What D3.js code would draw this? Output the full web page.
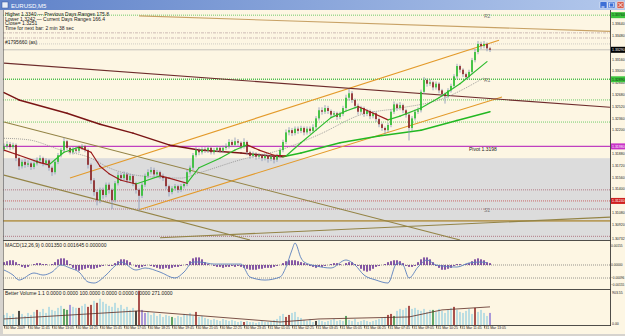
<!DOCTYPE html>
<html lang="en">
<head>
<meta charset="UTF-8">
<title>EURUSD,M5</title>
<script src="https://cdn.jsdelivr.net/npm/d3@7"></script>
<style>
    body{ margin:0; background:#d6d3ce; font-family:"Liberation Sans", Arial, sans-serif; }
    svg{ display:block; }
    .tiny{ font-size:5px; fill:#1a1a1a; }
    .axl{ font-size:3.5px; fill:#1a1a1a; }
    .axm{ font-size:3.2px; fill:#1a1a1a; }
</style>
</head>
<body>
<script>
// step 1 data (EURUSD M5, candle = 10 min)
const openFirst = 1.3194;
const closes = [
 1.3198,1.3201,1.3197,1.3200,1.3182,1.3171,1.3177,1.3173,1.3175,1.3170,
 1.3175,1.3179,1.3182,1.3175,1.3179,1.3169,1.3163,1.3177,1.3186,1.3193,
 1.3205,1.3196,1.3190,1.3194,1.3192,1.3196,1.3198,1.3193,1.3173,1.3152,
 1.3136,1.3125,1.3139,1.3132,1.3146,1.3139,1.3125,1.3148,1.3159,1.3155,
 1.3160,1.3152,1.3158,1.3148,1.3139,1.3131,1.3146,1.3158,1.3163,1.3166,
 1.3160,1.3163,1.3158,1.3155,1.3144,1.3136,1.3141,1.3144,1.3139,1.3144,
 1.3147,1.3163,1.3169,1.3186,1.3193,1.3190,1.3194,1.3192,1.3196,1.3190,
 1.3193,1.3196,1.3192,1.3196,1.3198,1.3204,1.3200,1.3205,1.3203,1.3198,
 1.3204,1.3190,1.3185,1.3188,1.3184,1.3186,1.3182,1.3185,1.3181,1.3184,
 1.3180,1.3185,1.3193,1.3204,1.3217,1.3220,1.3216,1.3222,1.3219,1.3223,
 1.3217,1.3222,1.3219,1.3224,1.3236,1.3247,1.3245,1.3250,1.3246,1.3241,
 1.3243,1.3238,1.3242,1.3250,1.3264,1.3270,1.3261,1.3253,1.3245,1.3250,
 1.3242,1.3246,1.3239,1.3243,1.3235,1.3228,1.3223,1.3220,1.3227,1.3245,
 1.3255,1.3250,1.3254,1.3247,1.3241,1.3223,1.3236,1.3245,1.3247,1.3272,
 1.3288,1.3283,1.3285,1.3278,1.3283,1.3274,1.3269,1.3266,1.3274,1.3280,
 1.3293,1.3307,1.3302,1.3296,1.3292,1.3299,1.3315,1.3326,1.3337,1.3334,
 1.3337,1.3331,1.3329];
const highs = [
 1.3202,1.3205,1.3204,1.3203,1.3202,1.3184,1.3180,1.3181,1.3179,1.3177,
 1.3178,1.3183,1.3186,1.3184,1.3182,1.3181,1.3171,1.3180,1.3189,1.3196,
 1.3210,1.3207,1.3198,1.3197,1.3197,1.3199,1.3201,1.3200,1.3195,1.3175,
 1.3155,1.3139,1.3142,1.3142,1.3149,1.3149,1.3141,1.3151,1.3163,1.3162,
 1.3164,1.3163,1.3161,1.3160,1.3150,1.3141,1.3149,1.3161,1.3167,1.3170,
 1.3169,1.3166,1.3165,1.3161,1.3157,1.3146,1.3144,1.3147,1.3146,1.3147,
 1.3150,1.3166,1.3172,1.3189,1.3197,1.3196,1.3197,1.3197,1.3199,1.3198,
 1.3196,1.3199,1.3198,1.3199,1.3202,1.3208,1.3207,1.3210,1.3208,1.3205,
 1.3209,1.3206,1.3192,1.3191,1.3190,1.3189,1.3188,1.3188,1.3187,1.3187,
 1.3186,1.3188,1.3196,1.3207,1.3221,1.3224,1.3223,1.3225,1.3225,1.3226,
 1.3225,1.3225,1.3225,1.3228,1.3239,1.3251,1.3251,1.3254,1.3253,1.3248,
 1.3246,1.3245,1.3245,1.3253,1.3268,1.3276,1.3273,1.3263,1.3256,1.3253,
 1.3252,1.3249,1.3248,1.3246,1.3245,1.3237,1.3230,1.3225,1.3230,1.3248,
 1.3259,1.3257,1.3258,1.3256,1.3249,1.3243,1.3239,1.3248,1.3251,1.3275,
 1.3292,1.3290,1.3289,1.3287,1.3286,1.3285,1.3276,1.3271,1.3277,1.3283,
 1.3296,1.3310,1.3309,1.3304,1.3298,1.3302,1.3318,1.3330,1.3341,1.3340,
 1.3341,1.3339,1.3333];
const lows = [
 1.3191,1.3195,1.3193,1.3194,1.3178,1.3166,1.3168,1.3169,1.3170,1.3166,
 1.3167,1.3172,1.3176,1.3171,1.3172,1.3165,1.3158,1.3160,1.3174,1.3183,
 1.3190,1.3193,1.3187,1.3187,1.3189,1.3189,1.3193,1.3190,1.3168,1.3147,
 1.3131,1.3118,1.3121,1.3127,1.3129,1.3134,1.3113,1.3122,1.3145,1.3151,
 1.3152,1.3148,1.3149,1.3144,1.3134,1.3110,1.3128,1.3143,1.3155,1.3160,
 1.3156,1.3157,1.3154,1.3151,1.3140,1.3130,1.3133,1.3138,1.3135,1.3136,
 1.3141,1.3144,1.3160,1.3166,1.3183,1.3186,1.3187,1.3189,1.3189,1.3187,
 1.3187,1.3190,1.3189,1.3189,1.3193,1.3195,1.3197,1.3197,1.3199,1.3194,
 1.3195,1.3186,1.3181,1.3182,1.3180,1.3181,1.3178,1.3179,1.3176,1.3178,
 1.3175,1.3177,1.3182,1.3190,1.3201,1.3213,1.3212,1.3213,1.3215,1.3216,
 1.3213,1.3214,1.3215,1.3216,1.3221,1.3233,1.3241,1.3242,1.3242,1.3237,
 1.3238,1.3234,1.3235,1.3239,1.3247,1.3260,1.3257,1.3249,1.3241,1.3242,
 1.3238,1.3239,1.3235,1.3236,1.3231,1.3224,1.3219,1.3214,1.3217,1.3224,
 1.3242,1.3246,1.3247,1.3243,1.3237,1.3206,1.3219,1.3233,1.3242,1.3244,
 1.3269,1.3279,1.3280,1.3274,1.3275,1.3270,1.3265,1.3256,1.3263,1.3271,
 1.3277,1.3290,1.3298,1.3292,1.3288,1.3289,1.3296,1.3312,1.3323,1.3330,
 1.3331,1.3327,1.3326];

// moving averages, [bar, price]
const fastMA = [[0,1.3193],[5,1.3186],[12,1.3176],[15,1.3173],[20,1.3190],[25,1.3197],[29,1.3190],
 [32,1.3171],[35,1.3161],[39,1.3152],[44,1.3147],[47,1.3151],[52,1.3158],[55,1.3155],[61,1.3148],
 [65,1.3169],[72,1.3182],[77,1.3193],[81,1.3200],[85,1.3193],[90,1.3186],[94,1.3185],[99,1.3203],
 [104,1.3220],[109,1.3237],[114,1.3246],[118,1.3252],[122,1.3245],[128,1.3234],[132,1.3239],
 [139,1.3250],[145,1.3264],[152,1.3283],[161,1.3313]];
const slowMA = [[0,1.3271],[5,1.3261],[21,1.3243],[32,1.3228],[43,1.3216],[55,1.3200],[65,1.3193],
 [79,1.3189],[89,1.3185],[93,1.3184],[99,1.3189],[112,1.3203],[125,1.3212],[139,1.3220],
 [151,1.3233],[162,1.3245]];
const dotMA = [[0,1.3209],[8,1.3207],[19,1.3193],[29,1.3182],[35,1.3169],[48,1.3157],[59,1.3155],
 [65,1.3162],[79,1.3180],[92,1.3193],[105,1.3214],[119,1.3241],[132,1.3250],[145,1.3261],[160,1.3291]];

// trend lines, [[bar, price],[bar, price]]
const orangeLines = [[[22,1.3155],[165,1.3342]], [[45,1.3112],[166,1.3265]]];
const oliveLines = [[[0,1.3231],[152,1.3071]], [[0,1.3159],[82,1.3071]], [[52,1.3074],[202,1.3102]]];
const maroonLine = [[0,1.3311],[202,1.3251]];
const tanLine = [[45,1.3375],[202,1.3354]];

// horizontal levels
const greenLevels = [1.3376, 1.3289, 1.3261, 1.3231];
const dashLevels = [1.3352, 1.3345];
const grayLevel = 1.3337;
const bidPrice = 1.3329;
const pivot = 1.3198;
const redDotLevels = [1.3139, 1.3113, 1.3076];
const redLevel = 1.3124;
const tanLevel = 1.3097;
const zoneTop = 1.3182;

const priceTicks = [1.3364,1.3348,1.3316,1.3300,1.3284,1.3268,1.3252,1.3236,1.3220,
 1.3188,1.3172,1.3156,1.3140,1.3108,1.3092,1.30732];
const timeLabels = ["30 Mar 2009","30 Mar 11:45","30 Mar 13:05","30 Mar 14:25","30 Mar 15:45",
 "30 Mar 17:05","30 Mar 18:25","30 Mar 19:45","30 Mar 21:05","30 Mar 22:25","30 Mar 23:45",
 "31 Mar 01:05","31 Mar 02:25","31 Mar 03:45","31 Mar 05:05","31 Mar 06:25","31 Mar 07:45",
 "31 Mar 09:05","31 Mar 10:25","31 Mar 11:45","31 Mar 13:05"];
const infoLines = ["Higher 1.3340 \u2014 Previous Days Ranges 175.8",
 "Lower 1.3242 \u2014 Current Days Ranges 166.4", "Close= 1.3251", "Time for next bar: 2 min 38 sec"];

// MACD histogram per candle, signal line [bar, value]
const macdHist = [
 0.00021,0.00028,0.00035,0.00035,0.00021,0.00007,-0.00014,-0.00021,-0.00014,0,
 0.00007,0.00014,0.00014,0.00007,0.00007,0,0.00007,0.00021,0.00042,0.00049,
 0.00049,0.00035,0.00007,-0.00021,-0.00035,-0.00042,-0.00035,-0.00028,-0.00021,-0.00028,
 -0.00028,-0.00021,-0.00014,-0.00007,0,-0.00007,-0.00007,0.00014,0.00028,0.00042,
 0.00042,0.00035,0.00021,0,-0.00014,-0.00021,-0.00014,-0.00007,0,-0.00007,
 -0.00014,-0.00021,-0.00028,-0.00028,-0.00021,-0.00028,-0.00021,-0.00014,-0.00014,-0.00007,
 0,0.00007,0.00028,0.00049,0.00056,0.00056,0.00042,0.00021,0.00007,0,
 -0.00007,-0.00014,-0.00014,-0.00021,-0.00014,-0.00014,-0.00007,-0.00014,-0.00007,-0.00014,
 -0.00021,-0.00028,-0.00035,-0.00035,-0.00035,-0.00028,-0.00028,-0.00021,-0.00021,-0.00021,
 -0.00014,-0.00007,0,0.00014,0.00028,0.00035,0.00035,0.00035,0.00028,0.00021,
 0.00014,0.00007,-0.00007,-0.00014,-0.00021,-0.00014,-0.00014,-0.00007,0,0.00007,
 0.00014,0.00014,0.00007,0,0.00014,0.00021,0.00021,0.00007,-0.00007,-0.00028,
 -0.00042,-0.00049,-0.00042,-0.00028,-0.00014,-0.00007,0,0.00007,0.00021,0.00028,
 0.00035,0.00035,0.00028,0.00014,-0.00007,-0.00014,-0.00014,-0.00007,0.00021,0.00042,
 0.00056,0.00056,0.00042,0.00021,-0.00007,-0.00021,-0.00035,-0.00035,-0.00028,-0.00021,
 -0.00007,0.00007,0.00007,0,0.00007,0.00014,0.00028,0.00042,0.00049,0.00042,
 0.00035,0.00021,0.00014];
const macdLine = [[0,-0.00037],[3,-0.00074],[5,-0.00111],[10,-0.00059],[13,-0.00074],[16,-0.00052],
 [19,0],[22,-0.00022],[25,-0.00052],[28,-0.00125],[30,-0.00133],[34,-0.00074],[37,-0.00007],
 [39,0.00022],[44,-0.00037],[47,-0.00022],[52,-0.00052],[57,-0.00096],[60,-0.00052],[63,0.00022],
 [65,0.00022],[70,0.00007],[79,0.00007],[82,-0.00089],[87,-0.00111],[92,-0.00089],[94,-0.00015],
 [96,0.00111],[97,0.00162],[99,0.00052],[100,0.00022],[104,-0.00007],[109,-0.00022],[114,0.00037],
 [117,0],[120,-0.00074],[124,-0.00111],[128,-0.00133],[131,0.00015],[133,0],[135,-0.00096],
 [138,-0.00015],[141,0.00037],[144,0],[151,-0.00015],[155,0.00015],[159,0.00022],[161,0.00015]];
const macdLevels = [0, -0.00096];
const macdTicks = [0.00155, 0, -0.00096, -0.00155];

// Better Volume, ticks per candle and bar categories
const volumes = [
 260,312,234,286,208,364,286,234,312,260,338,390,338,416,312,468,390,364,442,494,
 416,390,520,468,442,442,494,546,468,520,624,572,676,598,546,494,468,572,442,520,
 416,468,390,442,364,884,390,312,338,260,312,234,286,208,260,234,208,182,234,208,
 286,260,312,234,338,208,234,182,156,130,156,130,104,156,130,104,130,104,78,104,
 78,104,78,78,52,78,104,78,78,104,130,156,234,286,208,260,312,338,208,182,
 130,104,156,78,104,130,104,78,104,130,156,104,130,104,234,130,104,156,78,104,
 130,104,78,104,130,156,182,208,260,286,234,364,416,390,442,494,416,442,390,364,
 416,338,390,390,338,416,364,312,390,442,468,390,338,312,364,416,286,442,338,390,
 312,234,312];
const redVol = [11,25,28,29,31,45,64,80,94,95,128,129,135,150,157];
const greenVol = [20,21,56,114,130,143];
const blackVol = [5,44,104];
const purpleVol = [22,46,47,162];
const volMA = [[0,156],[45,364],[92,78],[105,156],[135,208],[146,390],[162,468]];
const volTicks = [903.55, 0];

// step 2 svg and scales
const W = 625, H = 336;
const svg = d3.select("body").append("svg").attr("width", W).attr("height", H);

const x = d3.scaleLinear().domain([0, 202]).range([4, 610]);
const y = d3.scaleLinear().domain([1.3071, 1.3383]).range([240, 10]);
const yM = d3.scaleLinear().domain([-0.00177, 0.00177]).range([289, 241]);
const yV = d3.scaleLinear().domain([0, 903.55]).range([325, 290]);

const defs = svg.append("defs");
const grad = defs.append("linearGradient").attr("id", "tb");
grad.append("stop").attr("offset", "0%").attr("stop-color", "#5f82c9");
grad.append("stop").attr("offset", "100%").attr("stop-color", "#b3c8ec");
defs.append("clipPath").attr("id", "cMain").append("rect").attr("x", 3).attr("y", 10).attr("width", 607).attr("height", 230);
defs.append("clipPath").attr("id", "cMacd").append("rect").attr("x", 3).attr("y", 241).attr("width", 607).attr("height", 48);
defs.append("clipPath").attr("id", "cVol").append("rect").attr("x", 3).attr("y", 290).attr("width", 607).attr("height", 35);

// window
svg.append("rect").attr("x", 3).attr("y", 10).attr("width", W - 3).attr("height", 324).attr("fill", "#fdf6e3");
svg.append("rect").attr("width", W).attr("height", 10).attr("fill", "url(#tb)");
svg.append("rect").attr("x", 2).attr("y", 2).attr("width", 6).attr("height", 6).attr("fill", "#e8eef8").attr("stroke", "#34539a").attr("stroke-width", 0.5);
svg.append("text").attr("x", 11).attr("y", 7.5).attr("fill", "#ffffff").style("font-size", "6px").text("EURUSD,M5");
[[600, "#3d6fd6"], [608, "#3d6fd6"], [617, "#d8604f"]].forEach(b => {
    svg.append("rect").attr("x", b[0]).attr("y", 1.5).attr("width", 7).attr("height", 7).attr("rx", 1)
        .attr("fill", b[1]).attr("stroke", "#ffffff").attr("stroke-width", 0.5);
});
svg.append("line").attr("x1", 601.5).attr("x2", 604.5).attr("y1", 7).attr("y2", 7).attr("stroke", "#fff");
svg.append("rect").attr("x", 609.5).attr("y", 3).attr("width", 4).attr("height", 4).attr("fill", "none").attr("stroke", "#fff").attr("stroke-width", 0.6);
svg.append("path").attr("d", "M618.5,3L622.5,7M622.5,3L618.5,7").attr("stroke", "#fff").attr("stroke-width", 0.8);

// step 3 main panel
const main = svg.append("g").attr("clip-path", "url(#cMain)");
main.append("rect").attr("x", 3).attr("width", 607).attr("y", y(zoneTop)).attr("height", 240 - y(zoneTop)).attr("fill", "#dcdcdc");

const hline = (p, color, dash, w) => main.append("line").attr("x1", 3).attr("x2", 610)
    .attr("y1", y(p)).attr("y2", y(p)).attr("stroke", color).attr("stroke-width", w || 0.7)
    .attr("stroke-dasharray", dash || null);
greenLevels.forEach((p, i) => hline(p, "#4cc04c", "1,1", i === 1 ? 1.4 : 0.8));
dashLevels.forEach(p => hline(p, "#b8a0a0", "3,1,1,1", 0.7));
hline(grayLevel, "#b0b0b0", "1,1", 0.6);
hline(bidPrice, "#a0a0a0", null, 0.6);
hline(pivot, "#c040c0", null, 1.2);
redDotLevels.forEach(p => hline(p, "#a05060", "1,1", 0.7));
hline(redLevel, "#c03030", "1,1", 0.7);
hline(tanLevel, "#b89c5c", null, 1.6);

const seg = d3.line().x(d => x(d[0])).y(d => y(d[1]));
orangeLines.forEach(l => main.append("path").attr("d", seg(l)).attr("stroke", "#e39a2a").attr("stroke-width", 1.1).attr("fill", "none"));
oliveLines.forEach(l => main.append("path").attr("d", seg(l)).attr("stroke", "#948446").attr("stroke-width", 1.1).attr("fill", "none"));
main.append("path").attr("d", seg(maroonLine)).attr("stroke", "#6e2c2c").attr("stroke-width", 1.1).attr("fill", "none");
main.append("path").attr("d", seg(tanLine)).attr("stroke", "#c8a266").attr("stroke-width", 1.1).attr("fill", "none");

// moving averages
main.append("path").attr("d", seg.curve(d3.curveMonotoneX)(dotMA)).attr("stroke", "#8a8a8a")
    .attr("stroke-width", 0.8).attr("stroke-dasharray", "1,1").attr("fill", "none");
seg.curve(d3.curveLinear);
const colorSegs = (pts, up, down, w) => {
    for (let k = 0; k < pts.length - 1; k++) {
        main.append("path").attr("d", seg([pts[k], pts[k + 1]]))
            .attr("stroke", pts[k + 1][1] >= pts[k][1] ? up : down)
            .attr("stroke-width", w).attr("fill", "none").attr("stroke-linecap", "round");
    }
};
colorSegs(slowMA, "#22b822", "#7a1414", 1.5);

// candles
const bars = closes.map((c, i) => ({ i: i, o: i ? closes[i - 1] : openFirst, h: highs[i], l: lows[i], c: c }));
main.selectAll(".wick").data(bars).enter().append("line")
    .attr("x1", d => x(d.i)).attr("x2", d => x(d.i))
    .attr("y1", d => y(d.h)).attr("y2", d => y(d.l))
    .attr("stroke", "#8596b6").attr("stroke-width", 0.8);
main.selectAll(".body").data(bars).enter().append("rect")
    .attr("x", d => x(d.i) - 0.8).attr("width", 1.6)
    .attr("y", d => y(Math.max(d.o, d.c)))
    .attr("height", d => Math.max(0.8, Math.abs(y(d.o) - y(d.c))))
    .attr("fill", d => d.c >= d.o ? "#27c027" : "#8b1c1c");

colorSegs(fastMA, "#2dbb2d", "#9a1a1a", 1.2);

// labels in the chart
main.append("text").attr("class", "tiny").attr("x", x(155)).attr("y", y(pivot) + 5).attr("fill", "#555").text("Pivot " + pivot.toFixed(4));
[["R2", 1.3376], ["R1", 1.3289], ["S1", 1.3113]].forEach(t => {
    main.append("text").attr("class", "tiny").attr("x", x(160)).attr("y", y(t[1]) + 2.5).style("fill", "#777").text(t[0]);
});
infoLines.forEach((t, i) => {
    svg.append("text").attr("class", "tiny").attr("x", 5).attr("y", 16 + i * 4.7).text(t);
});
svg.append("text").attr("class", "tiny").attr("x", 5).attr("y", 44).text("#1795660 (as)");

// right price scale
const fmt5 = d3.format(".5f");
const rlabel = (yy, txt, color, cls) => svg.append("text").attr("class", cls || "axl").attr("x", cls ? 611 : 612).attr("y", yy)
    .style("fill", color || "#1a1a1a").text(txt);
priceTicks.forEach(p => rlabel(y(p) + 1.3, fmt5(p)));
const box = (p, color, txtColor) => {
    svg.append("rect").attr("x", 611).attr("y", y(p) - 3).attr("width", 14).attr("height", 6).attr("fill", color);
    rlabel(y(p) + 1.3, fmt5(p), txtColor);
};
box(greenLevels[0], "#3cc43c", "#103010");
box(greenLevels[1], "#3cc43c", "#103010");
box(bidPrice, "#000000", "#ffffff");
box(pivot, "#c832c8", "#ffffff");
box(redLevel, "#d02020", "#ffffff");

// step 4 MACD panel
const macd = svg.append("g").attr("clip-path", "url(#cMacd)");
macdLevels.forEach(v => macd.append("line").attr("x1", 3).attr("x2", 610).attr("y1", yM(v)).attr("y2", yM(v))
    .attr("stroke", "#555").attr("stroke-width", 0.6).attr("stroke-dasharray", "1,1"));
macd.selectAll(".hist").data(macdHist).enter().append("rect")
    .attr("x", (d, i) => x(i) - 0.75).attr("width", 1.5)
    .attr("y", d => Math.min(yM(d), yM(0))).attr("height", d => Math.abs(yM(d) - yM(0)))
    .attr("fill", "#5e2390");
macd.append("path").attr("d", d3.line().x(d => x(d[0])).y(d => yM(d[1])).curve(d3.curveMonotoneX)(macdLine))
    .attr("stroke", "#5a7fbd").attr("stroke-width", 0.9).attr("fill", "none");
svg.append("text").attr("class", "tiny").attr("x", 5).attr("y", 247).text("MACD(12,26,9) 0.001350 0.001645 0.000000");
macdTicks.forEach(v => rlabel(yM(v) + (v > 0.001 ? 3 : v < -0.001 ? -0.5 : 1.2), fmt5(v), null, "axm"));

// step 5 volume panel
const vol = svg.append("g").attr("clip-path", "url(#cVol)");
const volColor = i => redVol.includes(i) ? "#8e1c1c" : greenVol.includes(i) ? "#2d8a3e"
    : blackVol.includes(i) ? "#111111" : purpleVol.includes(i) ? "#8f7ad6" : "#a6d6e2";
vol.selectAll(".vbar").data(volumes).enter().append("rect")
    .attr("x", (d, i) => x(i) - 0.75).attr("width", 1.5)
    .attr("y", d => yV(d)).attr("height", d => yV(0) - yV(d))
    .attr("fill", (d, i) => volColor(i));
vol.append("path").attr("d", d3.line().x(d => x(d[0])).y(d => yV(d[1]))(volMA))
    .attr("stroke", "#5b2a22").attr("stroke-width", 0.8).attr("fill", "none");
svg.append("text").attr("class", "tiny").attr("x", 5).attr("y", 295)
    .text("Better Volume 1.1 0.0000 0.0000 100.0000 0.0000 0.0000 0.0000 271.0000");
volTicks.forEach(v => svg.append("text").attr("class", "axl").attr("x", 612).attr("y", yV(v) + (v ? 4 : -0.5))
    .text(d3.format(".2f")(v)));

// step 6 frame lines and time axis
[240.5, 289.5, 325.5].forEach(v => svg.append("line").attr("x1", 3).attr("x2", 610.5).attr("y1", v).attr("y2", v).attr("stroke", "#222").attr("stroke-width", 0.8));
svg.append("line").attr("x1", 610.5).attr("x2", 610.5).attr("y1", 10).attr("y2", 326).attr("stroke", "#222").attr("stroke-width", 0.8);
svg.append("line").attr("x1", 3.5).attr("x2", 3.5).attr("y1", 10).attr("y2", 326).attr("stroke", "#555").attr("stroke-width", 0.6);

const xAxis = d3.axisBottom(x).tickValues(timeLabels.map((t, k) => k * 8))
    .tickFormat((d, k) => timeLabels[k]).tickSize(3).tickPadding(1);
const ax = svg.append("g").attr("transform", "translate(0,325.5)").call(xAxis);
ax.select(".domain").remove();
ax.selectAll("line").attr("stroke", "#222").attr("stroke-width", 0.6);
ax.selectAll("text").attr("text-anchor", "start").attr("dx", "0.8").attr("dy", "-0.2")
    .style("font-size", "3.5px").style("font-family", "Liberation Sans, Arial, sans-serif").attr("fill", "#1a1a1a");
</script>
</body>
</html>
